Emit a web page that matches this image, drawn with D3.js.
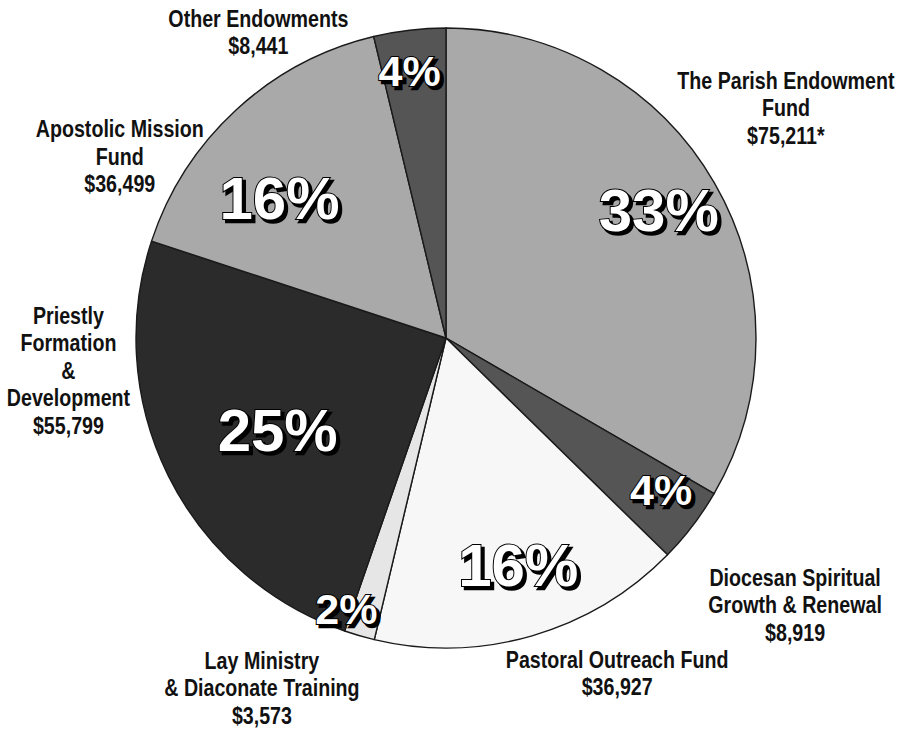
<!DOCTYPE html>
<html>
<head>
<meta charset="utf-8">
<script src="https://cdn.jsdelivr.net/npm/d3@7"></script>
<style>
  html, body { margin: 0; padding: 0; background: #fff; }
  #chart { width: 906px; height: 729px; }
</style>
</head>
<body>
<div id="chart"></div>
<script>
const funds = [
  'The Parish Endowment|Fund',
  'Diocesan Spiritual|Growth & Renewal',
  'Pastoral Outreach Fund',
  'Lay Ministry|& Diaconate Training',
  'Priestly|Formation|&|Development',
  'Apostolic Mission|Fund',
  'Other Endowments'
];
const amounts = [75211, 8919, 36927, 3573, 55799, 36499, 8441];
const amountNotes = ['*', '', '', '', '', '', ''];
const percents = ['33%', '4%', '16%', '2%', '25%', '16%', '4%'];

const fills = ['#a9a9a9', '#555555', '#f7f7f7', '#e6e6e6', '#2b2b2b', '#a9a9a9', '#555555'];

// where the big percent goes: radius fraction and angle nudge (deg)
const pctRadius = [0.80, 0.85, 0.77, 0.93, 0.62, 0.70, 0.87];
const pctNudge = [-1, -2, -1.5, 4, -2.5, -7.5, -1];
// callouts around the pie: angle (deg from 12 o'clock) and distance from centre
const calloutAngle = [56, 127.5, 153, 207.7, 265, 299, 328.4];
const calloutDist = [410, 440, 377, 396, 379, 373, 358];

const W = 906, H = 729;
const cx = 446, cy = 338, R = 310;

const svg = d3.select('#chart').append('svg')
  .attr('width', W)
  .attr('height', H);

const pie = d3.pie().sort(null).value(d => d);
const arcs = pie(amounts);
const arc = d3.arc().innerRadius(0).outerRadius(R);

const g = svg.append('g').attr('transform', `translate(${cx},${cy})`);

g.selectAll('path.slice')
  .data(arcs)
  .join('path')
  .attr('class', 'slice')
  .attr('d', arc)
  .attr('fill', (d, i) => fills[i])
  .attr('stroke', '#1a1a1a')
  .attr('stroke-width', 1.4)
  .attr('stroke-linejoin', 'round');

const polar = (angDeg, r) => {
  const a = angDeg * Math.PI / 180;
  return [r * Math.sin(a), -r * Math.cos(a)];
};

const pctPos = arcs.map((d, i) => {
  const mid = (d.startAngle + d.endAngle) / 2 * 180 / Math.PI + pctNudge[i];
  return polar(mid, R * pctRadius[i]);
});
const pctSize = arcs.map(d => (d.endAngle - d.startAngle) / (2 * Math.PI) > 0.1 ? 60 : 43);

const pctFont = '"Liberation Sans", Arial, sans-serif';

// shadow
g.selectAll('text.shadow')
  .data(percents)
  .join('text')
  .attr('class', 'shadow')
  .attr('x', (d, i) => pctPos[i][0] + 3)
  .attr('y', (d, i) => pctPos[i][1] + 3)
  .attr('text-anchor', 'middle')
  .attr('dominant-baseline', 'central')
  .attr('font-family', pctFont)
  .attr('font-weight', 'bold')
  .attr('font-size', (d, i) => pctSize[i])
  .attr('fill', '#000')
  .attr('stroke', '#000')
  .attr('stroke-width', 2.5)
  .text(d => d);

g.selectAll('text.pct')
  .data(percents)
  .join('text')
  .attr('class', 'pct')
  .attr('x', (d, i) => pctPos[i][0])
  .attr('y', (d, i) => pctPos[i][1])
  .attr('text-anchor', 'middle')
  .attr('dominant-baseline', 'central')
  .attr('font-family', pctFont)
  .attr('font-weight', 'bold')
  .attr('font-size', (d, i) => pctSize[i])
  .attr('fill', '#fff')
  .attr('stroke', '#000')
  .attr('stroke-width', 2)
  .attr('paint-order', 'stroke')
  .text(d => d);

// callout labels (narrow face: squeeze a regular sans horizontally)
const fmt = d3.format('$,');
const lineH = 27.5;
g.selectAll('text.callout')
  .data(funds)
  .join('text')
  .attr('class', 'callout')
  .attr('text-anchor', 'middle')
  .attr('font-family', '"Liberation Sans", Arial, sans-serif')
  .attr('font-weight', 'bold')
  .attr('font-size', 23)
  .attr('fill', '#111')
  .attr('transform', (d, i) => {
    const [px, py] = polar(calloutAngle[i], calloutDist[i]);
    return `translate(${px},${py}) scale(0.855,1)`;
  })
  .each(function (d, i) {
    const lines = d.split('|').concat(fmt(amounts[i]) + amountNotes[i]);
    const top = -(lines.length - 1) * lineH / 2;
    d3.select(this).selectAll('tspan')
      .data(lines)
      .join('tspan')
      .attr('x', 0)
      .attr('y', (l, k) => top + k * lineH)
      .attr('dominant-baseline', 'central')
      .text(l => l);
  });
</script>
</body>
</html>
